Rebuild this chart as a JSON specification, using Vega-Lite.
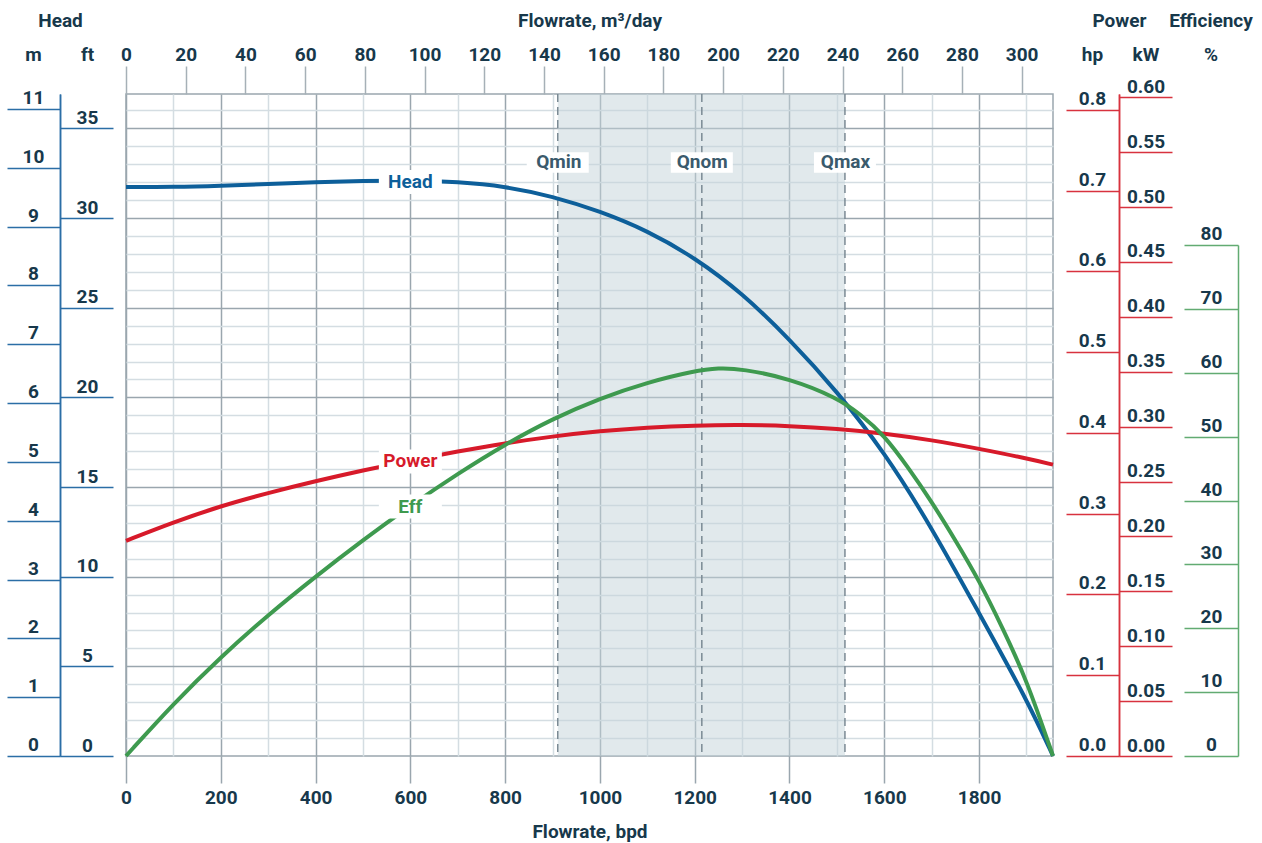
{
  "$schema": "https://vega.github.io/schema/vega-lite/v6.json",
  "width": 927,
  "height": 662,
  "autosize": {"type": "none"},
  "padding": {"left": 126, "top": 94, "right": 209, "bottom": 87},
  "background": "white",
  "config": {
    "view": {"stroke": "#9aa6ae", "strokeWidth": 1.5},
    "axis": {
      "labelFont": "Roboto", "labelFontWeight": "bold", "labelFontSize": 19, "labelColor": "#17384b",
      "titleFont": "Roboto", "titleFontWeight": "bold", "titleFontSize": 19, "titleColor": "#17384b",
      "labelOverlap": false, "labelFlush": false, "labelBound": false
    },
    "text": {"font": "Roboto", "fontWeight": "bold", "fontSize": 19}
  },
  "datasets": {
    "head": [
      {"bpd": 0, "ft": 31.73}, {"bpd": 100, "ft": 31.73}, {"bpd": 200, "ft": 31.8}, {"bpd": 300, "ft": 31.9},
      {"bpd": 400, "ft": 32.0}, {"bpd": 500, "ft": 32.08}, {"bpd": 600, "ft": 32.1}, {"bpd": 700, "ft": 32.02},
      {"bpd": 800, "ft": 31.77}, {"bpd": 900, "ft": 31.22}, {"bpd": 1000, "ft": 30.38}, {"bpd": 1100, "ft": 29.3},
      {"bpd": 1200, "ft": 27.8}, {"bpd": 1300, "ft": 25.82}, {"bpd": 1400, "ft": 23.25}, {"bpd": 1500, "ft": 20.35},
      {"bpd": 1600, "ft": 16.95}, {"bpd": 1700, "ft": 12.75}, {"bpd": 1800, "ft": 7.96}, {"bpd": 1900, "ft": 3.2},
      {"bpd": 1956, "ft": 0}
    ],
    "power": [
      {"bpd": 0, "hp": 0.2665}, {"bpd": 100, "hp": 0.2895}, {"bpd": 200, "hp": 0.3096}, {"bpd": 300, "hp": 0.3258},
      {"bpd": 400, "hp": 0.3404}, {"bpd": 500, "hp": 0.3538}, {"bpd": 600, "hp": 0.366}, {"bpd": 700, "hp": 0.3772},
      {"bpd": 800, "hp": 0.3874}, {"bpd": 900, "hp": 0.3958}, {"bpd": 1000, "hp": 0.4025}, {"bpd": 1100, "hp": 0.4068},
      {"bpd": 1200, "hp": 0.4094}, {"bpd": 1300, "hp": 0.4102}, {"bpd": 1400, "hp": 0.4088}, {"bpd": 1500, "hp": 0.4053},
      {"bpd": 1600, "hp": 0.3996}, {"bpd": 1700, "hp": 0.3913}, {"bpd": 1800, "hp": 0.3805}, {"bpd": 1900, "hp": 0.3686},
      {"bpd": 1956, "hp": 0.3608}
    ],
    "eff": [
      {"bpd": 0, "pct": 0}, {"bpd": 100, "pct": 8.2}, {"bpd": 200, "pct": 15.5}, {"bpd": 300, "pct": 22.1},
      {"bpd": 400, "pct": 28.1}, {"bpd": 500, "pct": 33.8}, {"bpd": 600, "pct": 39.2}, {"bpd": 700, "pct": 44.2},
      {"bpd": 800, "pct": 48.8}, {"bpd": 900, "pct": 52.8}, {"bpd": 1000, "pct": 56.0}, {"bpd": 1100, "pct": 58.5},
      {"bpd": 1200, "pct": 60.3}, {"bpd": 1250, "pct": 60.75}, {"bpd": 1300, "pct": 60.6}, {"bpd": 1400, "pct": 59.1},
      {"bpd": 1500, "pct": 56.1}, {"bpd": 1550, "pct": 53.5}, {"bpd": 1600, "pct": 50.2}, {"bpd": 1650, "pct": 45.2},
      {"bpd": 1700, "pct": 39.8}, {"bpd": 1750, "pct": 33.8}, {"bpd": 1800, "pct": 27.5}, {"bpd": 1850, "pct": 20.0},
      {"bpd": 1900, "pct": 12.0}, {"bpd": 1956, "pct": 0}
    ],
    "q": [
      {"name": "Qmin", "bpd": 911, "m3d": 145, "m": 10.09},
      {"name": "Qnom", "bpd": 1215, "m3d": 193, "m": 10.09},
      {"name": "Qmax", "bpd": 1517, "m3d": 241, "m": 10.09}
    ],
    "range": [{"from": 911, "to": 1517}],
    "headlab": [{"name": "Head", "bpd": 600, "ft": 32.01}],
    "powlab": [{"name": "Power", "bpd": 600, "hp": 0.3647, "kw": 0.2683}],
    "efflab": [{"name": "Eff", "bpd": 600, "pct": 39.06}]
  },
  "layer": [
    {
      "data": {"name": "range"},
      "mark": {"type": "rect", "fill": "#c4d4da", "fillOpacity": 0.5},
      "encoding": {
        "x": {"field": "from", "type": "quantitative",
          "scale": {"domain": [0, 1956], "nice": false, "zero": false},
          "axis": {"orient": "bottom", "values": [0, 200, 400, 600, 800, 1000, 1200, 1400, 1600, 1800], "format": "d",
            "grid": true, "gridColor": "#9aa6ae", "gridWidth": 1.5,
            "ticks": true, "tickSize": 27, "tickColor": "#9aa6ae", "tickWidth": 1.5,
            "domain": false, "labels": true, "labelPadding": 5.5,
            "title": "Flowrate, bpd", "titleX": 463.5, "titleY": 81, "titleAlign": "center", "titleBaseline": "alphabetic"}},
        "x2": {"field": "to"}
      }
    },
    {
      "data": {"name": "q"},
      "mark": {"type": "rule", "color": "#7b8a94", "strokeDash": [8, 5], "strokeWidth": 1.5},
      "encoding": {
        "x": {"field": "bpd", "type": "quantitative",
          "scale": {"domain": [0, 1956], "nice": false, "zero": false},
          "axis": {"orient": "bottom", "values": [100, 300, 500, 700, 900, 1100, 1300, 1500, 1700, 1900],
            "grid": true, "gridColor": "#d4dde2", "gridWidth": 1.5,
            "ticks": false, "labels": false, "domain": false, "title": null}}
      }
    },
    {
      "data": {"name": "head"},
      "mark": {"type": "line", "color": "#0d5f9a", "strokeWidth": 4, "interpolate": "basis"},
      "encoding": {
        "x": {"field": "bpd", "type": "quantitative", "scale": {"domain": [0, 1956], "nice": false, "zero": false}, "axis": null},
        "y": {"field": "ft", "type": "quantitative", "scale": {"domain": [0, 36.92], "nice": false, "zero": false},
          "axis": {"orient": "left", "offset": 66, "values": [0, 5, 10, 15, 20, 25, 30, 35],
            "domain": true, "domainColor": "#2b6ea6", "domainWidth": 1.5,
            "ticks": true, "tickSize": -53, "tickColor": "#2b6ea6", "tickWidth": 1.5,
            "labels": true, "labelAlign": "center", "labelBaseline": "alphabetic", "labelPadding": 26, "labelOffset": -5,
            "grid": false,
            "title": "ft", "titleAngle": 0, "titleX": 27, "titleY": -34, "titleAlign": "center", "titleBaseline": "alphabetic"}}
      }
    },
    {
      "data": {"name": "power"},
      "mark": {"type": "line", "color": "#d71a2a", "strokeWidth": 4, "interpolate": "basis"},
      "encoding": {
        "x": {"field": "bpd", "type": "quantitative", "scale": {"domain": [0, 1956], "nice": false, "zero": false}, "axis": null},
        "y": {"field": "hp", "type": "quantitative", "scale": {"domain": [0, 0.8198], "nice": false, "zero": false},
          "axis": {"orient": "right", "offset": 66, "values": [0, 0.1, 0.2, 0.3, 0.4, 0.5, 0.6, 0.7, 0.8], "format": ".1f",
            "domain": true, "domainColor": "#d8323e", "domainWidth": 1.5,
            "ticks": true, "tickSize": -53, "tickColor": "#d8323e", "tickWidth": 1.5,
            "labels": true, "labelAlign": "center", "labelBaseline": "alphabetic", "labelPadding": 26, "labelOffset": -5.5,
            "grid": false,
            "title": "hp", "titleAngle": 0, "titleX": -27, "titleY": -34, "titleAlign": "center", "titleBaseline": "alphabetic"}}
      }
    },
    {
      "data": {"name": "eff"},
      "mark": {"type": "line", "color": "#3e9a4f", "strokeWidth": 4, "interpolate": "basis"},
      "encoding": {
        "x": {"field": "bpd", "type": "quantitative", "scale": {"domain": [0, 1956], "nice": false, "zero": false}, "axis": null},
        "y": {"field": "pct", "type": "quantitative", "scale": {"domain": [0, 80], "range": [662, 151], "nice": false, "zero": false},
          "axis": {"orient": "right", "offset": 185, "values": [0, 10, 20, 30, 40, 50, 60, 70, 80],
            "domain": true, "domainColor": "#62ab72", "domainWidth": 1.5,
            "ticks": true, "tickSize": -54, "tickColor": "#62ab72", "tickWidth": 1.5,
            "labels": true, "labelAlign": "center", "labelBaseline": "alphabetic", "labelPadding": 27, "labelOffset": -5.5,
            "grid": false,
            "title": ["Efficiency", "%"], "titleLineHeight": 34, "titleAngle": 0, "titleX": -27.5, "titleY": -68, "titleAlign": "center", "titleBaseline": "alphabetic"}}
      }
    },
    {
      "data": {"name": "headlab"},
      "mark": {"type": "point", "shape": "M-1,-0.381H1V0.381H-1Z", "size": 3969, "filled": true, "color": "white", "opacity": 1, "strokeWidth": 0},
      "encoding": {
        "x": {"field": "bpd", "type": "quantitative", "scale": {"domain": [0, 1956], "nice": false, "zero": false}, "axis": null},
        "y": {"field": "ft", "type": "quantitative", "scale": {"domain": [0, 36.92], "nice": false, "zero": false},
          "axis": {"orient": "left", "values": [5, 10, 15, 20, 25, 30, 35], "grid": true, "gridColor": "#9aa6ae", "gridWidth": 1.5,
            "ticks": false, "labels": false, "domain": false, "title": null}}
      }
    },
    {
      "data": {"name": "headlab"},
      "mark": {"type": "text", "color": "#0d5f9a", "align": "center", "baseline": "middle"},
      "encoding": {
        "x": {"field": "bpd", "type": "quantitative", "scale": {"domain": [0, 1956], "nice": false, "zero": false}, "axis": null},
        "y": {"field": "ft", "type": "quantitative", "scale": {"domain": [0, 36.92], "nice": false, "zero": false},
          "axis": {"orient": "left", "values": [1, 2, 3, 4, 6, 7, 8, 9, 11, 12, 13, 14, 16, 17, 18, 19, 21, 22, 23, 24, 26, 27, 28, 29, 31, 32, 33, 34, 36],
            "grid": true, "gridColor": "#d4dde2", "gridWidth": 1.5,
            "ticks": false, "labels": false, "domain": false, "title": null}},
        "text": {"field": "name"}
      }
    },
    {
      "data": {"name": "powlab"},
      "mark": {"type": "point", "shape": "M-1,-0.381H1V0.381H-1Z", "size": 3969, "filled": true, "color": "white", "opacity": 1, "strokeWidth": 0},
      "encoding": {
        "x": {"field": "bpd", "type": "quantitative", "scale": {"domain": [0, 1956], "nice": false, "zero": false}, "axis": null},
        "y": {"field": "kw", "type": "quantitative", "scale": {"domain": [0, 0.603], "nice": false, "zero": false},
          "axis": {"orient": "right", "offset": 66, "values": [0, 0.05, 0.1, 0.15, 0.2, 0.25, 0.3, 0.35, 0.4, 0.45, 0.5, 0.55, 0.6], "format": ".2f",
            "domain": true, "domainColor": "#d8323e", "domainWidth": 1.5,
            "ticks": true, "tickSize": 53, "tickColor": "#d8323e", "tickWidth": 1.5,
            "labels": true, "labelAlign": "center", "labelBaseline": "alphabetic", "labelPadding": -26.5, "labelOffset": -5,
            "grid": false,
            "title": "kW", "titleAngle": 0, "titleX": 26.5, "titleY": -34, "titleAlign": "center", "titleBaseline": "alphabetic"}}
      }
    },
    {
      "data": {"name": "powlab"},
      "mark": {"type": "text", "color": "#d71a2a", "align": "center", "baseline": "middle"},
      "encoding": {
        "x": {"field": "bpd", "type": "quantitative", "scale": {"domain": [0, 1956], "nice": false, "zero": false}, "axis": null},
        "y": {"field": "hp", "type": "quantitative", "scale": {"domain": [0, 0.8198], "nice": false, "zero": false},
          "axis": {"orient": "right", "offset": 66, "domain": false, "ticks": false, "labels": false, "grid": false,
            "title": "Power", "titleAngle": 0, "titleX": 0, "titleY": -68, "titleAlign": "center", "titleBaseline": "alphabetic"}},
        "text": {"field": "name"}
      }
    },
    {
      "data": {"name": "efflab"},
      "mark": {"type": "point", "shape": "M-1,-0.381H1V0.381H-1Z", "size": 3969, "filled": true, "color": "white", "opacity": 1, "strokeWidth": 0},
      "encoding": {
        "x": {"field": "bpd", "type": "quantitative", "scale": {"domain": [0, 1956], "nice": false, "zero": false}, "axis": null},
        "y": {"field": "pct", "type": "quantitative", "scale": {"domain": [0, 80], "range": [662, 151], "nice": false, "zero": false}, "axis": null}
      }
    },
    {
      "data": {"name": "efflab"},
      "mark": {"type": "text", "color": "#3e9a4f", "align": "center", "baseline": "middle"},
      "encoding": {
        "x": {"field": "bpd", "type": "quantitative", "scale": {"domain": [0, 1956], "nice": false, "zero": false}, "axis": null},
        "y": {"field": "pct", "type": "quantitative", "scale": {"domain": [0, 80], "range": [662, 151], "nice": false, "zero": false}, "axis": null},
        "text": {"field": "name"}
      }
    },
    {
      "data": {"name": "q"},
      "mark": {"type": "point", "shape": "M-1,-0.33H1V0.33H-1Z", "size": 3844, "filled": true, "color": "white", "opacity": 1, "strokeWidth": 0},
      "encoding": {
        "x": {"field": "bpd", "type": "quantitative", "scale": {"domain": [0, 1956], "nice": false, "zero": false}, "axis": null},
        "y": {"field": "m", "type": "quantitative", "scale": {"domain": [0, 11.253], "nice": false, "zero": false},
          "axis": {"orient": "left", "offset": 66, "values": [0, 1, 2, 3, 4, 5, 6, 7, 8, 9, 10, 11],
            "domain": true, "domainColor": "#2b6ea6", "domainWidth": 1.5,
            "ticks": true, "tickSize": 53, "tickColor": "#2b6ea6", "tickWidth": 1.5,
            "labels": true, "labelAlign": "center", "labelBaseline": "alphabetic", "labelPadding": -26, "labelOffset": -5.5,
            "grid": false,
            "title": "m", "titleAngle": 0, "titleX": -27, "titleY": -34, "titleAlign": "center", "titleBaseline": "alphabetic"}}
      }
    },
    {
      "data": {"name": "q"},
      "mark": {"type": "text", "color": "#3a5a6c", "align": "center", "baseline": "middle"},
      "encoding": {
        "x": {"field": "m3d", "type": "quantitative", "scale": {"domain": [0, 310.5], "nice": false, "zero": false},
          "axis": {"orient": "top", "values": [0, 20, 40, 60, 80, 100, 120, 140, 160, 180, 200, 220, 240, 260, 280, 300],
            "ticks": true, "tickSize": 28, "tickColor": "#a6b0b7", "tickWidth": 1.5,
            "labels": true, "labelPadding": 1.5, "domain": false, "grid": false,
            "title": "Flowrate, m³/day", "titleX": 463.5, "titleY": -68, "titleAlign": "center", "titleBaseline": "alphabetic"}},
        "y": {"field": "m", "type": "quantitative", "scale": {"domain": [0, 11.253], "nice": false, "zero": false},
          "axis": {"orient": "left", "offset": 66, "domain": false, "ticks": false, "labels": false, "grid": false,
            "title": "Head", "titleAngle": 0, "titleX": 0, "titleY": -68, "titleAlign": "center", "titleBaseline": "alphabetic"}},
        "text": {"field": "name"}
      }
    }
  ],
  "resolve": {
    "scale": {"x": "independent", "y": "independent"},
    "axis": {"x": "independent", "y": "independent"}
  }
}
